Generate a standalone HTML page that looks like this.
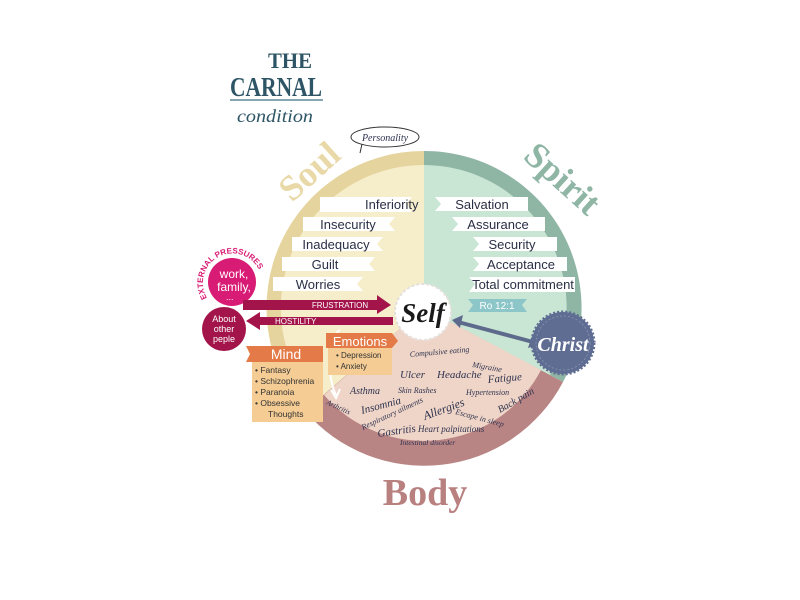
<!DOCTYPE html>
<html><head><meta charset="utf-8"><style>
html,body{margin:0;padding:0;background:#fff;width:800px;height:600px;overflow:hidden}
svg{display:block}
.r{font-family:"Liberation Sans",sans-serif;font-size:13px;fill:#2a2f45}
.h{font-family:"Liberation Serif",serif;font-style:italic;fill:#2f3350}
</style></head><body>
<svg width="800" height="600" viewBox="0 0 800 600" xmlns="http://www.w3.org/2000/svg">
<defs>
<path id="ep" d="M 207 298 A 29 29 0 1 1 258 268"/>
</defs>
<!-- title -->
<text x="268" y="68" textLength="44" lengthAdjust="spacingAndGlyphs" font-family="Liberation Serif,serif" font-size="22" font-weight="bold" fill="#2e5566">THE</text>
<text x="230" y="96" textLength="92" lengthAdjust="spacingAndGlyphs" font-family="Liberation Serif,serif" font-size="27" font-weight="bold" fill="#2e5566">CARNAL</text>
<line x1="230" y1="100" x2="323" y2="100" stroke="#5f8a99" stroke-width="1.5"/>
<text x="237" y="122" textLength="76" lengthAdjust="spacingAndGlyphs" font-family="Liberation Serif,serif" font-style="italic" font-size="18" fill="#2e5566">condition</text>
<ellipse cx="385" cy="137" rx="34" ry="10" fill="#fff" stroke="#333" stroke-width="1"/>
<path d="M362 144 L360 153" stroke="#333" fill="none"/>
<text x="385" y="141" class="h" font-size="10" text-anchor="middle">Personality</text>

<path d="M424 308 L424 151 A157 157 0 0 0 305 411 Z" fill="#e6d49e"/>
<path d="M424 308 L424 165 A143 143 0 0 0 316 402 Z" fill="#f6edca"/>
<path d="M424 308 L424 151 A157 157 0 0 1 563 382 Z" fill="#8fb5a5"/>
<path d="M424 308 L424 165 A143 143 0 0 1 550 375 Z" fill="#c9e5d4"/>
<path d="M424 308 L563 382 A157 157 0 0 1 305 411 Z" fill="#b98484"/>
<path d="M424 308 L541 370 A132 132 0 0 1 324 395 Z" fill="#efd5c7"/>

<text transform="translate(292,203) rotate(-42)" font-family="Liberation Serif,serif" font-weight="bold" font-size="36" fill="#e9d9a8">Soul</text>
<text transform="translate(522,158) rotate(42)" font-family="Liberation Serif,serif" font-weight="bold" font-size="36" fill="#8fb5a5">Spirit</text>
<text x="425" y="505" font-family="Liberation Serif,serif" font-weight="bold" font-size="38" fill="#b98080" text-anchor="middle">Body</text>

<g fill="#fff">
<path d="M320 197 H412 L406 204 L412 212 H320 Z"/>
<path d="M303 217 H395 L389 224 L395 231 H303 Z"/>
<path d="M292 237 H383 L377 244 L383 251 H292 Z"/>
<path d="M282 257 H375 L369 264 L375 271 H282 Z"/>
<path d="M273 277 H363 L357 284 L363 291 H273 Z"/>
<path d="M435 197 H528 V211 H435 L441 204 Z"/>
<path d="M452 217 H545 V231 H452 L458 224 Z"/>
<path d="M473 237 H557 V251 H473 L479 244 Z"/>
<path d="M473 257 H567 V271 H473 L479 264 Z"/>
<path d="M469 277 H575 V292 H469 L475 284 Z"/>
</g>
<path d="M468 299 H527 L522 305 L527 312 H468 L473 305 Z" fill="#8cc6c8"/>
<text x="497" y="309" font-family="Liberation Sans,sans-serif" font-size="10" fill="#fff" text-anchor="middle">Ro 12:1</text>
<text x="365" y="209" class="r">Inferiority</text>
<text x="348" y="229" class="r" text-anchor="middle">Insecurity</text>
<text x="336" y="249" class="r" text-anchor="middle">Inadequacy</text>
<text x="325" y="269" class="r" text-anchor="middle">Guilt</text>
<text x="318" y="289" class="r" text-anchor="middle">Worries</text>
<text x="482" y="209" class="r" text-anchor="middle">Salvation</text>
<text x="498" y="229" class="r" text-anchor="middle">Assurance</text>
<text x="512" y="249" class="r" text-anchor="middle">Security</text>
<text x="521" y="269" class="r" text-anchor="middle">Acceptance</text>
<text x="523" y="289" class="r" font-size="11.5" text-anchor="middle">Total commitment</text>

<circle cx="232" cy="282" r="24" fill="#d81b74"/>
<text font-family="Liberation Sans,sans-serif" font-size="8" font-weight="bold" fill="#d81b74"><textPath href="#ep">EXTERNAL PRESSURES</textPath></text>
<text x="234" y="278" font-family="Liberation Sans,sans-serif" font-size="12" fill="#fff" text-anchor="middle">work,</text>
<text x="234" y="291" font-family="Liberation Sans,sans-serif" font-size="12" fill="#fff" text-anchor="middle">family,</text>
<text x="226" y="300" font-family="Liberation Sans,sans-serif" font-size="9" fill="#fff">...</text>
<circle cx="224" cy="329" r="22" fill="#a3154a"/>
<text x="224" y="322" font-family="Liberation Sans,sans-serif" font-size="9" fill="#fff" text-anchor="middle">About</text>
<text x="224" y="332" font-family="Liberation Sans,sans-serif" font-size="9" fill="#fff" text-anchor="middle">other</text>
<text x="224" y="342" font-family="Liberation Sans,sans-serif" font-size="9" fill="#fff" text-anchor="middle">peple</text>

<path d="M243 300 H377 V295 L391 305 L377 314 V310 H243 Z" fill="#a3154a"/>
<text x="340" y="308" font-family="Liberation Sans,sans-serif" font-size="8" fill="#fff" text-anchor="middle">FRUSTRATION</text>
<path d="M393 317 H260 V312 L246 321 L260 330 V325 H393 Z" fill="#a3154a"/>
<text x="275" y="324" font-family="Liberation Sans,sans-serif" font-size="8" fill="#fff">HOSTILITY</text>
<path d="M340 330 C325 338 328 380 336 395" stroke="#fff" stroke-width="2" fill="none"/>
<path d="M331 390 L336 398 L340 389" stroke="#fff" stroke-width="2" fill="none"/>

<path d="M246 346 H323 V362 H246 L250 354 Z" fill="#e37a47"/>
<text x="286" y="359" font-family="Liberation Sans,sans-serif" font-size="14" fill="#fff" text-anchor="middle">Mind</text>
<rect x="252" y="362" width="71" height="60" fill="#f4cc94"/>
<g font-family="Liberation Sans,sans-serif" font-size="8.5" fill="#333">
<text x="255" y="373">• Fantasy</text>
<text x="255" y="384">• Schizophrenia</text>
<text x="255" y="395">• Paranoia</text>
<text x="255" y="406">• Obsessive</text>
<text x="268" y="417">Thoughts</text>
</g>
<path d="M326 333 H392 L398 341 L392 348 H326 Z" fill="#e37a47"/>
<text x="360" y="346" font-family="Liberation Sans,sans-serif" font-size="13" fill="#fff" text-anchor="middle">Emotions</text>
<rect x="328" y="348" width="64" height="27" fill="#f4cc94"/>
<g font-family="Liberation Sans,sans-serif" font-size="8" fill="#333">
<text x="336" y="358">• Depression</text>
<text x="336" y="369">• Anxiety</text>
</g>

<g class="h">
<text x="410" y="357" font-size="8" transform="rotate(-5 410 357)">Compulsive eating</text>
<text x="472" y="367" font-size="8" transform="rotate(10 472 367)">Migraine</text>
<text x="400" y="378" font-size="11">Ulcer</text>
<text x="437" y="378" font-size="11">Headache</text>
<text x="488" y="383" font-size="11" transform="rotate(-5 488 383)">Fatigue</text>
<text x="350" y="394" font-size="10">Asthma</text>
<text x="398" y="393" font-size="8">Skin Rashes</text>
<text x="466" y="395" font-size="8">Hypertension</text>
<text x="326" y="404" font-size="7.5" transform="rotate(25 326 404)">Arthritis</text>
<text x="362" y="414" font-size="11" transform="rotate(-15 362 414)">Insomnia</text>
<text x="363" y="430" font-size="8" transform="rotate(-25 363 430)">Respiratory ailments</text>
<text x="425" y="420" font-size="12" transform="rotate(-20 425 420)">Allergies</text>
<text x="455" y="414" font-size="8" transform="rotate(15 455 414)">Escape in sleep</text>
<text x="500" y="413" font-size="10" transform="rotate(-30 500 413)">Back pain</text>
<text x="378" y="437" font-size="11" transform="rotate(-8 378 437)">Gastritis</text>
<text x="418" y="432" font-size="9">Heart palpitations</text>
<text x="400" y="445" font-size="7.5">Intestinal disorder</text>
</g>

<circle cx="423" cy="312" r="28" fill="#fff" stroke="#e4e0dc" stroke-width="2" stroke-dasharray="3 2"/>
<text x="423" y="322" font-family="Liberation Serif,serif" font-weight="bold" font-style="italic" font-size="27" fill="#1a1a1a" text-anchor="middle">Self</text>

<line x1="458" y1="322" x2="533" y2="342" stroke="#5d6a8c" stroke-width="4"/>
<path d="M452 320 L463 315 L460 328 Z" fill="#5d6a8c"/>
<path d="M540 344 L528 348 L532 336 Z" fill="#5d6a8c"/>

<circle cx="563" cy="343" r="31" fill="#5f6d93" stroke="#5f6d93" stroke-width="3" stroke-dasharray="2 2"/>
<circle cx="563" cy="343" r="27" fill="none" stroke="#8a94b2" stroke-width="0.8" stroke-dasharray="2 2"/>
<text x="563" y="351" font-family="Liberation Serif,serif" font-weight="bold" font-style="italic" font-size="20" fill="#fff" text-anchor="middle">Christ</text>
</svg>
</body></html>
